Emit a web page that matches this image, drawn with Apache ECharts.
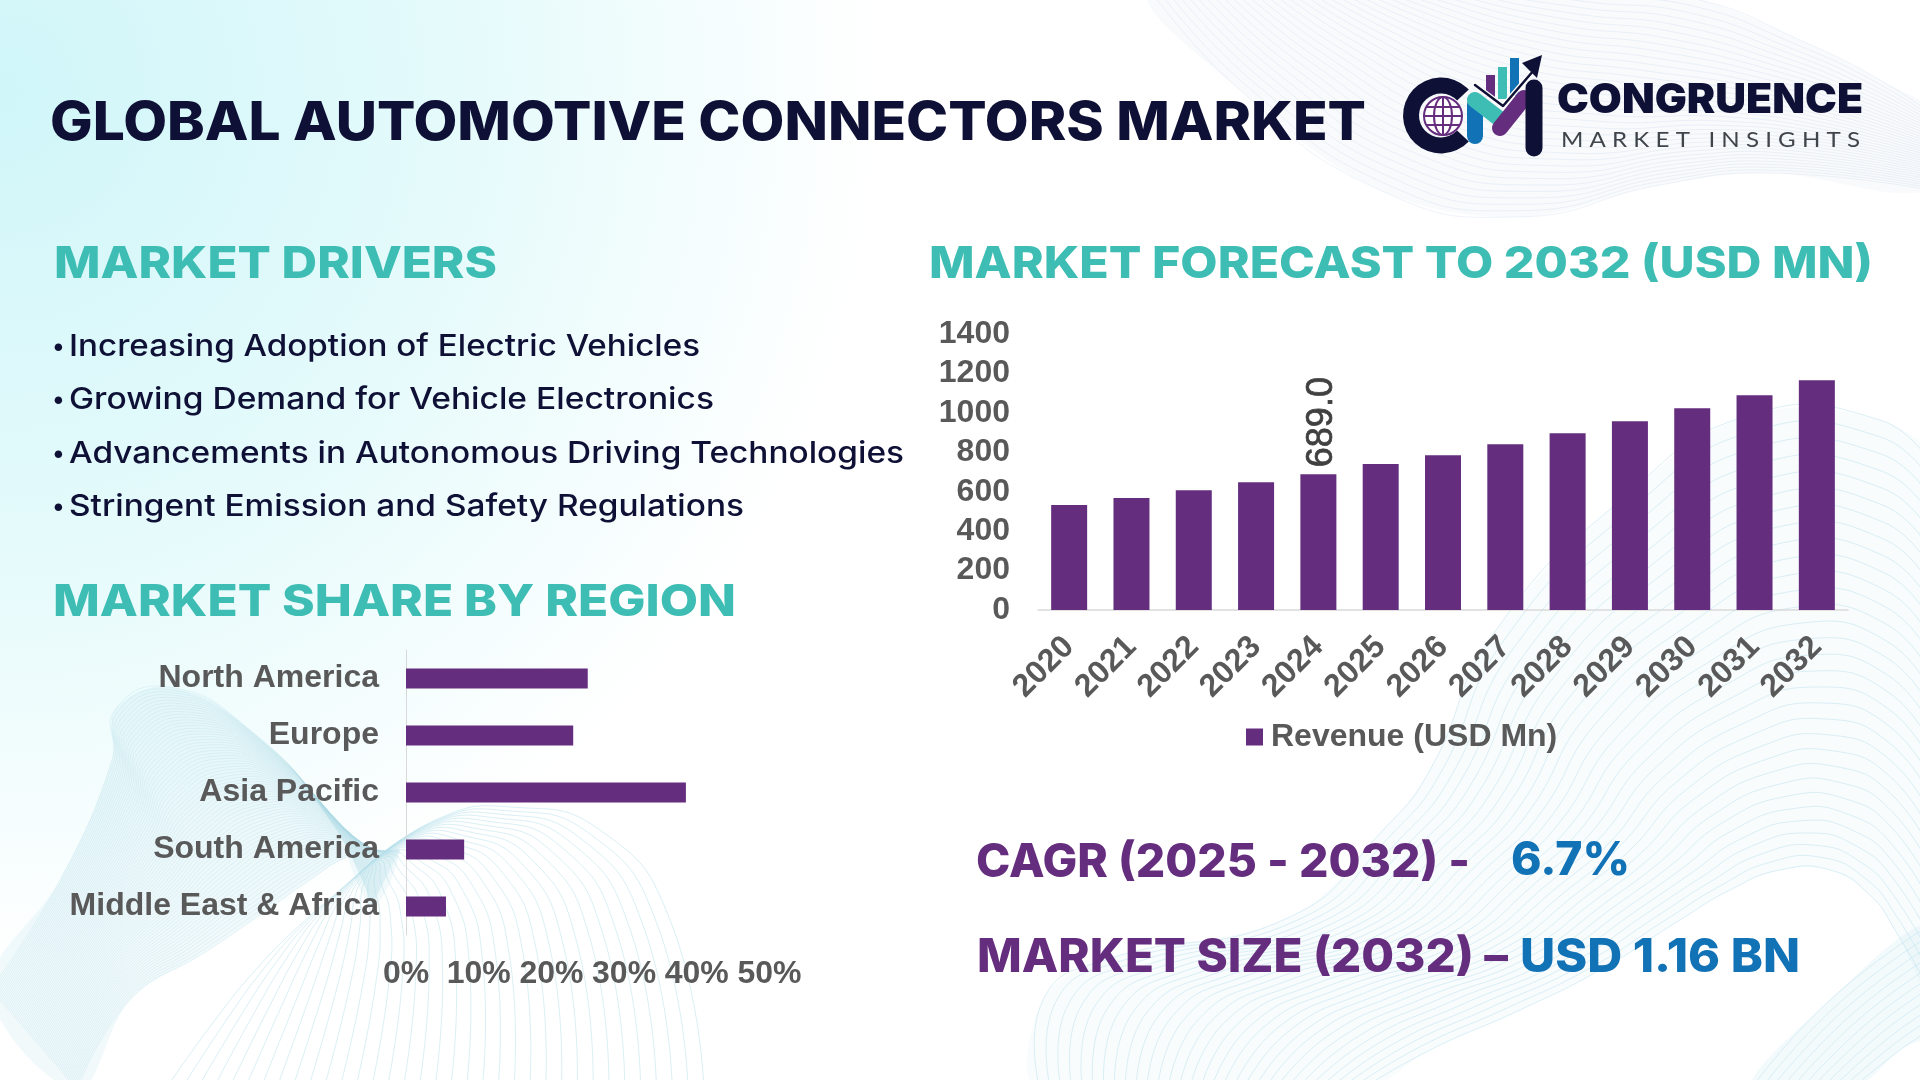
<!DOCTYPE html>
<html>
<head>
<meta charset="utf-8">
<title>Global Automotive Connectors Market</title>
<script src="https://cdn.jsdelivr.net/npm/echarts@6/dist/echarts.min.js"></script>
<style>
  html, body { margin: 0; padding: 0; background: #fff; }
  #chart { width: 1920px; height: 1080px; }
</style>
</head>
<body>
<div id="chart"></div>
<script>
// data
const years = ['2020', '2021', '2022', '2023', '2024', '2025', '2026', '2027', '2028', '2029', '2030', '2031', '2032'];
const revenue = [532, 568, 608, 648, 689, 740, 785, 841, 897, 958, 1023, 1089, 1165];
const labeledYear = '2024';
const regions = ['North America', 'Europe', 'Asia Pacific', 'South America', 'Middle East & Africa'];
const regionShare = [25, 23, 38.5, 8, 5.5];
const revenueName = 'Revenue (USD Mn)';

const titleText = 'GLOBAL AUTOMOTIVE CONNECTORS MARKET';
const driversTitle = 'MARKET DRIVERS';
const shareTitle = 'MARKET SHARE BY REGION';
const forecastTitle = 'MARKET FORECAST TO 2032 (USD MN)';
const drivers = [
  'Increasing Adoption of Electric Vehicles',
  'Growing Demand for Vehicle Electronics',
  'Advancements in Autonomous Driving Technologies',
  'Stringent Emission and Safety Regulations'
];
const driverY = [347, 400, 454, 507];
const driverRight = [700, 714, 904, 744];

const NAVY = '#0f1035', TEAL = '#3dbdb3', PURPLE = '#652d7e', BLUE = '#1272b6', GREY = '#595959';
const AXIS_FONT = '"Liberation Sans", Arial, sans-serif';
const HEAD_FONT = 'Inter, "Noto Sans", sans-serif';

const measureCtx = document.createElement('canvas').getContext('2d');

// text squeezed or stretched to run from left to right
function fitText(text, font, fill, left, right, y, z) {
  measureCtx.font = font;
  const w = measureCtx.measureText(text).width;
  return {
    type: 'text', x: left, y: y, scaleX: (right - left) / w, z: z || 20, silent: true,
    style: { text: text, font: font, fill: fill, align: 'left', verticalAlign: 'middle' }
  };
}

// family of thin lines between two curves, control points blended
function ribbon(a, b, n, color, opacity, fillOpacity) {
  const out = [];
  if (fillOpacity) {
    out.push({
      type: 'polygon', silent: true, z: 1,
      shape: { points: a.concat(b.slice().reverse()), smooth: 0.35 },
      style: { fill: color, opacity: fillOpacity }
    });
  }
  for (let i = 0; i <= n; i++) {
    const t = i / n;
    const pts = a.map((p, k) => [p[0] + (b[k][0] - p[0]) * t, p[1] + (b[k][1] - p[1]) * t]);
    out.push({
      type: 'polyline', silent: true, z: 2,
      shape: { points: pts, smooth: 0.5 },
      style: { stroke: color, lineWidth: 1, opacity: opacity, fill: null }
    });
  }
  return out;
}

function background() {
  const bg = [{
    type: 'rect', silent: true, z: 0,
    shape: { x: 0, y: 0, width: 1920, height: 1080 },
    style: {
      fill: {
        type: 'radial', x: 0, y: 90, r: 880, global: true,
        colorStops: [
          { offset: 0, color: '#d0f6f9' },
          { offset: 0.5, color: '#e4fafb' },
          { offset: 1, color: '#ffffff' }
        ]
      }
    }
  }];
  // top right, very pale
  bg.push(...ribbon(
    [[1150, -10], [1240, 90], [1380, 190], [1518, 217], [1660, 185], [1770, 173], [1930, 190]],
    [[1400, -40], [1500, -20], [1600, -10], [1700, 0], [1800, 40], [1880, 80], [1940, 120]],
    34, '#c9d8ea', 0.3, 0.12));
  // bottom left twist
  bg.push(...ribbon(
    [[-10, 990], [60, 880], [112, 760], [115, 710], [168, 687], [250, 730], [330, 820], [372, 905]],
    [[77, 1090], [130, 1000], [204, 953], [260, 915], [310, 880], [345, 858], [375, 852], [400, 850]],
    70, '#a9d8e4', 0.26, 0.16));
  bg.push(...ribbon(
    [[365, 868], [440, 818], [510, 807], [600, 830], [670, 920], [704, 1090]],
    [[365, 868], [340, 890], [300, 925], [260, 965], [215, 1020], [165, 1090]],
    34, '#b5dfe9', 0.5));
  // bottom right big arch
  bg.push(...ribbon(
    [[1040, 1090], [1043, 1000], [1105, 960], [1290, 917], [1383, 830], [1430, 770], [1494, 633], [1621, 500], [1750, 415], [1880, 420], [1935, 470]],
    [[1360, 1090], [1430, 1050], [1520, 1010], [1600, 970], [1680, 920], [1730, 890], [1780, 870], [1830, 870], [1870, 895], [1895, 930], [1935, 1000]],
    30, '#bfe2ee', 0.55, 0.1));
  bg.push(...ribbon(
    [[1750, 1090], [1830, 1000], [1930, 925]],
    [[1850, 1090], [1900, 1050], [1930, 1030]],
    10, '#bfe2ee', 0.55, 0.18));
  return bg;
}

function stroke(points, color, width) {
  return {
    type: 'polyline', silent: true, z: 22, shape: { points: points },
    style: { stroke: color, lineWidth: width, lineCap: 'round', lineJoin: 'round', fill: null }
  };
}

function logo() {
  const gx = 1443, gy = 116, gr = 19;
  const shapes = [
    { type: 'sector', silent: true, z: 21, shape: { cx: 1441, cy: 115.5, r: 38, r0: 22, startAngle: 0.75, endAngle: Math.PI * 2 - 0.75 }, style: { fill: NAVY } },
    { type: 'circle', silent: true, z: 22, shape: { cx: gx, cy: gy, r: gr }, style: { fill: '#fff', stroke: PURPLE, lineWidth: 2 } },
    { type: 'ellipse', silent: true, z: 22, shape: { cx: gx, cy: gy, rx: 9, ry: gr }, style: { fill: null, stroke: PURPLE, lineWidth: 2 } },
    stroke([[gx, gy - gr], [gx, gy + gr]], PURPLE, 2),
    stroke([[gx - gr, gy], [gx + gr, gy]], PURPLE, 2),
    stroke([[gx - 16, gy - 9], [gx + 16, gy - 9]], PURPLE, 2),
    stroke([[gx - 16, gy + 9], [gx + 16, gy + 9]], PURPLE, 2),
    { type: 'rect', silent: true, z: 21, shape: { x: 1486, y: 75, width: 9, height: 22 }, style: { fill: PURPLE } },
    { type: 'rect', silent: true, z: 21, shape: { x: 1498, y: 67, width: 9, height: 32 }, style: { fill: TEAL } },
    { type: 'rect', silent: true, z: 21, shape: { x: 1510, y: 58, width: 9, height: 38 }, style: { fill: BLUE } },
    stroke([[1475, 105], [1475, 136]], BLUE, 16),
    stroke([[1475, 100], [1501, 120]], TEAL, 16),
    stroke([[1500, 128], [1524, 98]], PURPLE, 16),
    stroke([[1534, 88], [1534, 148]], NAVY, 17),
    stroke([[1475, 85], [1503, 106], [1534, 70]], '#fff', 5),
    stroke([[1475, 85], [1503, 106], [1534, 70]], NAVY, 2.5),
    { type: 'polygon', silent: true, z: 23, shape: { points: [[1542, 55], [1522, 63], [1537, 78]] }, style: { fill: NAVY } }
  ];
  shapes.push(fitText('CONGRUENCE', '900 41px Inter, sans-serif', NAVY, 1557, 1863, 101, 22));
  shapes.push(fitText('M A R K E T   I N S I G H T S', '400 22px Lato, sans-serif', '#3f454b', 1561, 1860, 140, 22));
  return shapes;
}

function texts() {
  const out = [
    fitText(titleText, '800 54px ' + HEAD_FONT, NAVY, 50, 1366, 124),
    fitText(driversTitle, '800 44px ' + HEAD_FONT, TEAL, 54, 497, 265),
    fitText(shareTitle, '800 44px ' + HEAD_FONT, TEAL, 53, 736, 603),
    fitText(forecastTitle, '800 44px ' + HEAD_FONT, TEAL, 929, 1873, 265),
    fitText('CAGR (2025 - 2032) -', '800 46px ' + HEAD_FONT, PURPLE, 976, 1470, 863),
    fitText('6.7%', '800 46px ' + HEAD_FONT, BLUE, 1511, 1630, 861),
    fitText('MARKET SIZE (2032) –', '800 46px ' + HEAD_FONT, PURPLE, 977, 1508, 958),
    fitText('USD 1.16 BN', '800 46px ' + HEAD_FONT, BLUE, 1520, 1800, 958)
  ];
  drivers.forEach((line, i) => {
    out.push({
      type: 'text', x: 52, y: driverY[i], z: 20, silent: true,
      style: { text: '•', font: '500 24px ' + HEAD_FONT, fill: NAVY, align: 'left', verticalAlign: 'middle' }
    });
    out.push(fitText(line, '500 30px ' + HEAD_FONT, NAVY, 69, driverRight[i], driverY[i]));
  });
  return out;
}

const chart = echarts.init(document.getElementById('chart'), null, { width: 1920, height: 1080 });

chart.setOption({
  animation: false,
  backgroundColor: '#ffffff',
  graphic: { elements: [...background(), ...texts(), ...logo()] },
  grid: [
    { left: 1038, top: 334, width: 810, height: 276 },
    { left: 406, top: 650, width: 363.5, height: 285 }
  ],
  legend: {
    data: [revenueName], left: 1241, top: 716, icon: 'rect', itemWidth: 17, itemHeight: 17, z: 10,
    textStyle: { fontFamily: AXIS_FONT, fontWeight: 'bold', fontSize: 32, color: GREY, padding: [0, 0, 0, 3] }
  },
  xAxis: [
    {
      type: 'category', gridIndex: 0, data: years, z: 10,
      axisLine: { lineStyle: { color: '#d9d9d9', width: 1.5 } },
      axisTick: { show: false },
      axisLabel: { rotate: 45, interval: 0, margin: 32, fontFamily: AXIS_FONT, fontWeight: 'bold', fontSize: 32, color: GREY }
    },
    {
      type: 'value', gridIndex: 1, min: 0, max: 50, interval: 10, z: 10,
      axisLine: { show: false }, axisTick: { show: false }, splitLine: { show: false },
      axisLabel: { margin: 23, formatter: '{value}%', fontFamily: AXIS_FONT, fontWeight: 'bold', fontSize: 32, color: GREY }
    }
  ],
  yAxis: [
    {
      type: 'value', gridIndex: 0, min: 0, max: 1400, interval: 200, z: 10,
      axisLine: { show: false }, axisTick: { show: false }, splitLine: { show: false },
      axisLabel: { margin: 28, formatter: v => String(v), fontFamily: AXIS_FONT, fontWeight: 'bold', fontSize: 32, color: GREY }
    },
    {
      type: 'category', gridIndex: 1, data: regions, inverse: true, z: 10,
      axisLine: { lineStyle: { color: '#d9d9d9', width: 1 } },
      axisTick: { show: false },
      axisLabel: { interval: 0, margin: 27, fontFamily: AXIS_FONT, fontWeight: 'bold', fontSize: 32, color: GREY }
    }
  ],
  series: [
    {
      name: revenueName, type: 'bar', xAxisIndex: 0, yAxisIndex: 0, barWidth: 36, z: 10,
      itemStyle: { color: PURPLE },
      data: revenue.map((v, i) => years[i] === labeledYear ? {
        value: v,
        label: {
          show: true, position: 'top', distance: 7, offset: [0, 4], rotate: 90, align: 'left', verticalAlign: 'middle',
          formatter: p => p.value.toFixed(1), fontFamily: AXIS_FONT, fontSize: 36, color: '#404040',
          textBorderColor: '#404040', textBorderWidth: 0.7
        }
      } : v)
    },
    {
      name: 'Market share', type: 'bar', xAxisIndex: 1, yAxisIndex: 1, barWidth: 20, z: 10,
      itemStyle: { color: PURPLE },
      data: regionShare
    }
  ]
});
</script>
</body>
</html>
